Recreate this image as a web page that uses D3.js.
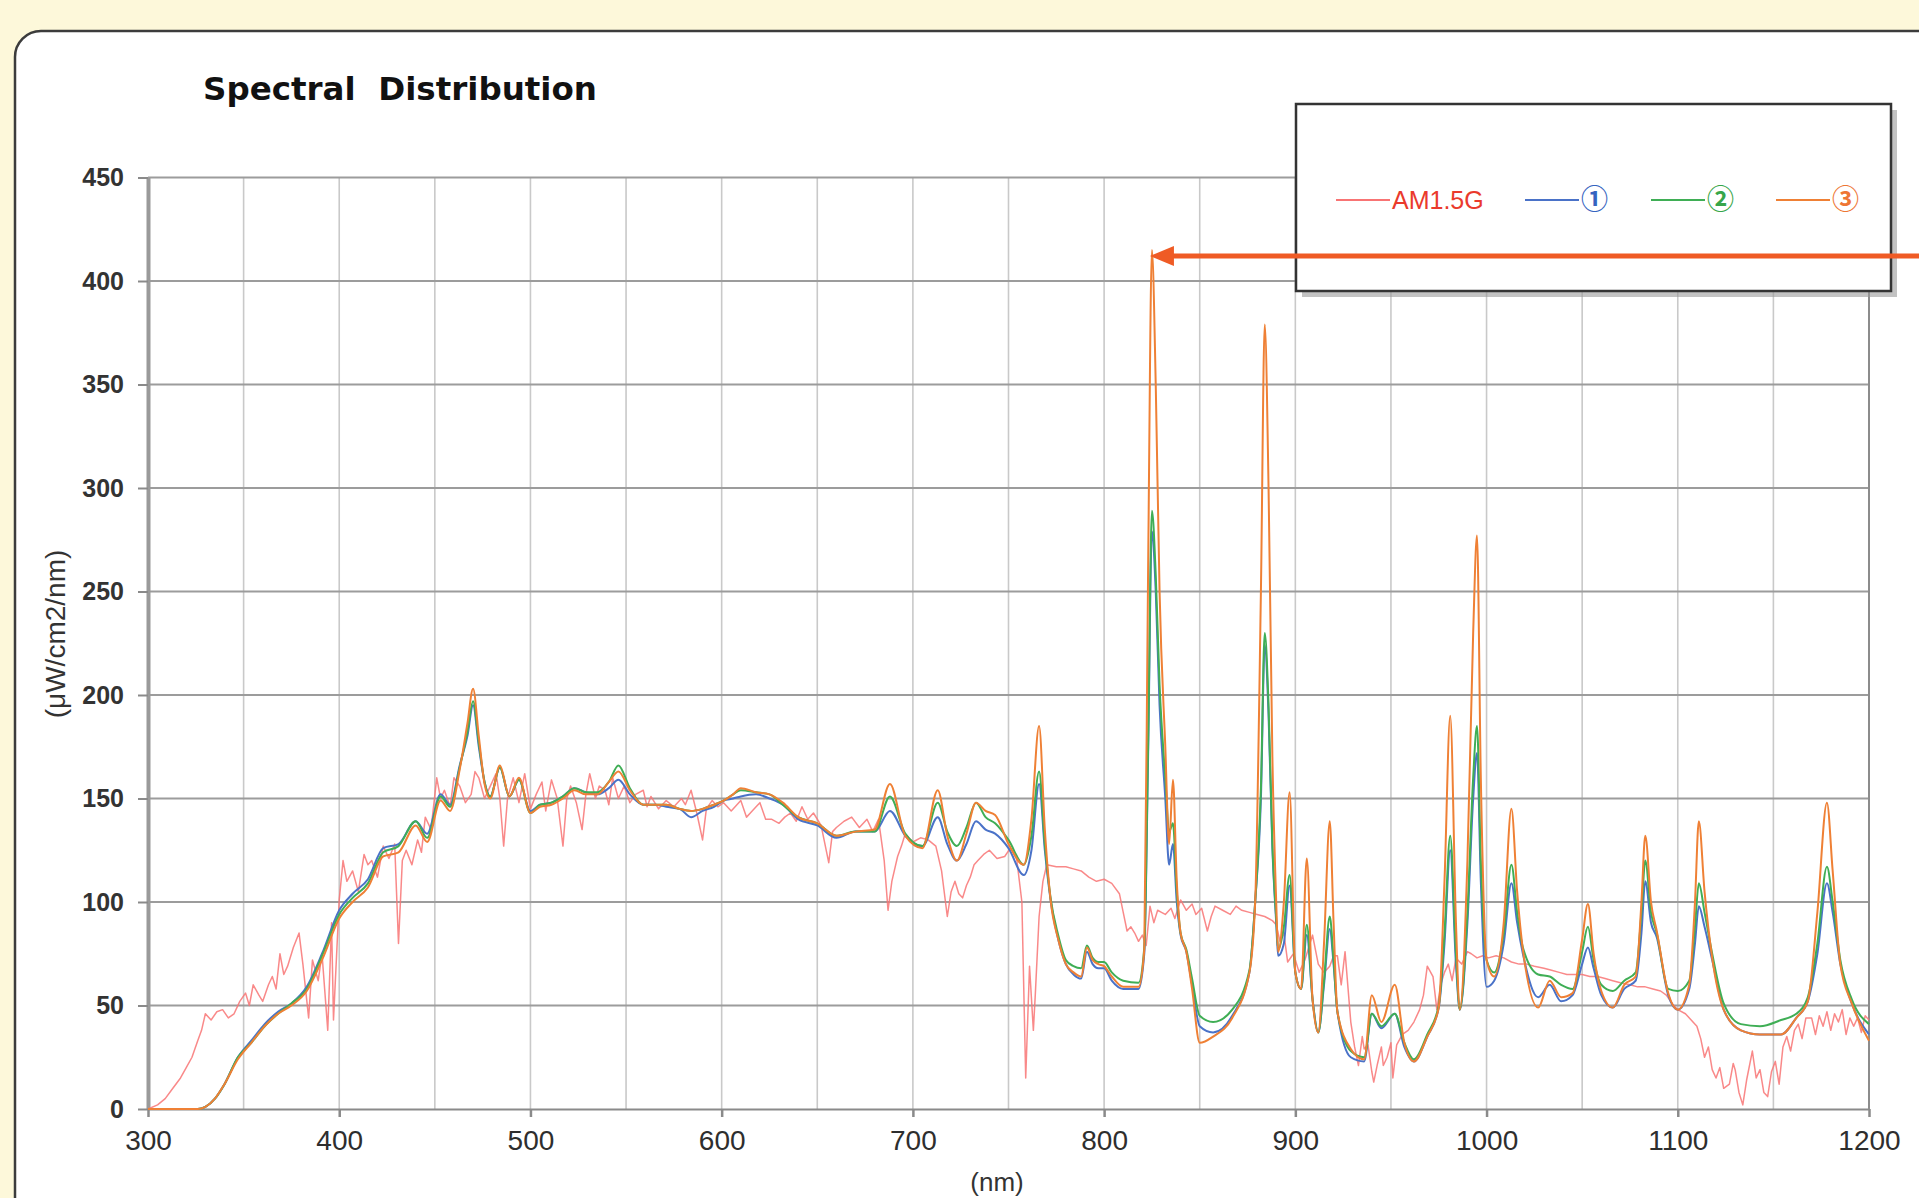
<!DOCTYPE html>
<html>
<head>
<meta charset="utf-8">
<script src="https://cdn.jsdelivr.net/npm/d3@7"></script>
<style>
  body { margin: 0; background: #fdf8da; overflow: hidden; }
  svg { display: block; }
</style>
</head>
<body>
<svg id="chart" width="1919" height="1198"></svg>
<script>
// tick labels
var xTicks = [300, 400, 500, 600, 700, 800, 900, 1000, 1100, 1200];
var xGrid = [350, 400, 450, 500, 550, 600, 650, 700, 750, 800, 850, 900, 950, 1000, 1050, 1100, 1150];
var yTicks = [0, 50, 100, 150, 200, 250, 300, 350, 400, 450];
var seriesNames = ["AM1.5G", "\u2460", "\u2461", "\u2462"];

// AM1.5G reference spectrum
var am15Nm = [300,305,309,313,317,320,323,326,328,330,333,336,339,342,345,348,351,353,355,358,360,363,365,367,369,371,373,376,379,381,384,386,389,391,394,396,397,400,402,404,407,410,413,415,417,420,423,426,429,431,433,435,438,441,443,445,448,451,453,455,458,460,463,466,469,471,473,476,479,482,484,486,488,491,494,497,500,503,506,508,511,514,517,519,521,524,527,529,531,534,536,539,541,543,546,549,552,555,559,561,563,567,571,575,579,581,584,587,590,592,595,598,601,605,610,613,615,618,620,623,626,630,633,636,639,642,645,648,652,656,658,660,664,668,672,676,679,682,685,687,689,692,694,696,700,704,708,712,715,718,720,722,724,726,728,730,732,734,737,740,744,748,751,754,757,759,761,763,764,766,768,770,775,780,784,788,792,796,800,804,808,810,812,814,816,818,820,822,824,826,828,830,832,835,837,840,843,846,848,851,854,856,858,862,866,869,872,876,880,884,888,890,892,894,896,899,902,905,909,912,915,918,920,922,924,926,929,931,933,935,936,938,940,941,943,945,946,948,950,951,953,956,959,962,965,967,969,972,974,976,978,980,982,984,987,990,992,995,998,1001,1005,1009,1013,1017,1021,1025,1030,1034,1038,1042,1046,1050,1054,1058,1062,1066,1070,1075,1079,1083,1087,1091,1094,1097,1100,1104,1107,1110,1112,1114,1116,1118,1120,1122,1124,1127,1129,1130,1132,1134,1136,1139,1141,1143,1145,1147,1149,1151,1153,1155,1157,1159,1161,1163,1165,1167,1170,1172,1174,1176,1178,1180,1182,1184,1186,1188,1190,1192,1194,1196,1198,1200];
var am15Val = [0,2,5,10,15,20,25,33,38,46,43,47,48,44,46,52,56,50,60,55,52,60,64,58,75,65,69,78,85,70,44,72,62,75,38,90,43,101,120,110,115,105,123,118,120,112,127,121,128,80,120,125,118,130,124,141,135,160,150,154,146,160,156,148,152,163,160,150,156,162,150,127,150,160,148,162,145,152,158,144,159,150,127,150,156,148,135,152,162,150,156,154,147,160,150,156,148,152,154,146,151,145,149,146,150,147,154,143,130,145,149,146,148,144,149,141,143,146,148,140,140,138,141,143,139,146,140,143,137,119,134,136,139,141,136,140,134,140,120,96,110,122,127,133,129,131,130,127,115,93,105,110,104,102,108,112,118,120,123,125,121,122,126,123,100,15,69,38,55,93,110,118,117,117,116,115,112,110,111,109,104,95,86,88,85,81,84,79,98,90,96,95,94,97,92,101,96,99,94,97,86,93,98,96,94,98,96,95,94,93,91,89,81,85,71,75,66,72,84,70,66,69,74,74,60,76,42,30,21,35,29,31,18,13,22,30,21,25,32,15,31,36,38,42,48,55,69,64,48,60,66,70,62,73,70,76,75,73,74,73,74,73,71,70,70,69,68,67,66,65,65,65,64,64,63,62,61,60,59,59,58,57,55,51,48,46,43,40,34,25,30,19,15,20,10,12,22,19,8,2,14,28,15,19,8,6,18,23,12,30,35,28,38,41,34,44,44,36,45,40,47,38,46,42,48,36,44,40,44,37,45,43];

// lamp spectra 1, 2, 3 on a shared wavelength grid
var lampNm = [300,315,326,330,335,340,347,354,361,368,375,383,391,400,407,415,423,431,440,446,453,458,463,467,470,473,476,479,484,489,494,500,505,511,517,523,529,535,541,546,552,559,565,571,578,584,590,596,601,606,610,618,625,632,640,650,660,670,680,688,696,705,713,718,723,728,733,738,743,750,758,762,766,769,772,776,780,784,788,791,794,797,800,804,810,818,821,823,825,827,829,832,834,836,838,840,843,846,850,857,867,876,879,882,884,886,888,890,891,894,897,900,903,906,909,912,915,918,920,922,929,936,940,945,952,957,962,969,975,978,981,984,986,990,993,995,997,1000,1004,1009,1013,1016,1019,1027,1033,1039,1045,1050,1053,1056,1060,1066,1072,1078,1081,1083,1086,1089,1095,1100,1106,1109,1111,1114,1118,1124,1133,1143,1154,1162,1168,1173,1178,1181,1185,1191,1200];
var lamp1 = [0,0,0,1,5,12,25,33,41,47,51,59,75,96,104,111,126,128,139,133,152,147,166,180,195,175,158,151,165,151,159,144,147,148,151,155,153,152,155,159,152,147,147,146,145,141,144,146,149,150,151,152,150,147,140,137,131,134,134,144,132,127,141,128,120,128,139,135,133,126,113,125,157,125,101,82,70,65,63,76,70,68,68,62,58,58,75,170,279,250,195,150,118,128,100,84,76,60,40,37,45,66,100,150,224,190,126,90,74,80,108,66,58,84,53,37,60,87,70,47,25,23,46,39,46,30,23,35,49,80,125,70,48,90,150,172,110,59,62,80,109,90,75,54,60,52,55,70,78,68,55,49,58,62,85,110,90,83,55,48,58,80,98,88,72,48,38,36,36,44,52,75,109,95,70,51,36];
var lamp2 = [0,0,0,1,5,12,25,32,40,46,51,58,74,94,102,109,124,127,139,131,151,146,165,182,197,177,158,151,165,151,159,143,147,148,151,155,153,153,158,166,155,147,147,147,145,144,145,147,149,152,154,153,152,147,141,138,132,134,134,151,133,127,148,134,127,136,148,141,138,130,118,132,163,128,102,84,72,69,68,79,73,71,71,66,62,61,78,175,289,258,205,160,134,138,105,85,77,63,45,42,48,67,100,155,230,195,128,92,77,88,113,66,58,89,53,37,62,93,72,47,28,25,46,40,46,32,24,36,50,85,132,75,48,95,160,185,120,72,66,85,118,95,78,65,64,60,58,76,88,72,60,57,62,66,95,120,95,85,58,57,62,88,109,95,75,51,41,40,43,46,54,80,117,100,72,53,41];
var lamp3 = [0,0,0,1,5,12,24,32,40,46,50,57,72,92,100,107,122,124,137,129,149,144,164,186,203,180,157,150,166,151,160,143,146,147,150,154,152,152,158,163,154,147,147,147,145,144,145,147,149,152,155,153,152,148,141,138,132,134,135,157,132,126,154,132,120,133,148,144,142,128,118,140,185,135,101,82,70,66,64,78,72,70,69,64,59,59,77,260,415,350,250,175,128,159,110,85,76,58,32,35,44,66,100,250,379,300,170,100,76,100,153,66,58,121,53,37,80,139,90,47,29,24,55,42,60,32,23,35,49,110,190,90,48,120,230,277,160,72,64,90,145,105,77,49,62,54,56,82,99,75,57,49,60,64,100,132,100,86,56,48,60,100,139,105,73,48,38,36,36,44,52,95,148,115,70,51,33];

var colors = ["#f87474", "#4a72c8", "#3fae55", "#ef8035"];
var labelColors = ["#ea3a2c", "#3563c0", "#37a64a", "#ee7633"];

var svg = d3.select("#chart");
var W = 1919, H = 1198;

// rounded white panel
svg.append("rect")
  .attr("x", 15).attr("y", 31)
  .attr("width", W + 100).attr("height", H + 100)
  .attr("rx", 26).attr("ry", 26)
  .attr("fill", "#ffffff")
  .attr("stroke", "#3c3c3c")
  .attr("stroke-width", 2.5);

var MARGINS = { top: 177.5, left: 148, right: 1869, bottom: 1109 };
var xScale = d3.scaleLinear().domain([300, 1200]).range([MARGINS.left, MARGINS.right]);
var yScale = d3.scaleLinear().domain([0, 450]).range([MARGINS.bottom, MARGINS.top]);

// grid
svg.append("g").selectAll("line")
  .data(xGrid).enter().append("line")
  .attr("x1", function(d) { return xScale(d); })
  .attr("x2", function(d) { return xScale(d); })
  .attr("y1", yScale(450)).attr("y2", yScale(0))
  .attr("stroke", "#c9c9c9").attr("stroke-width", 1.6);

svg.append("g").selectAll("line")
  .data(yTicks.slice(1)).enter().append("line")
  .attr("x1", xScale(300)).attr("x2", xScale(1200))
  .attr("y1", function(d) { return yScale(d); })
  .attr("y2", function(d) { return yScale(d); })
  .attr("stroke", "#9c9c9c").attr("stroke-width", 2);

// right frame line
svg.append("line")
  .attr("x1", xScale(1200)).attr("x2", xScale(1200))
  .attr("y1", yScale(450)).attr("y2", yScale(0))
  .attr("stroke", "#8c8c8c").attr("stroke-width", 2);

// axes
var xAxis = d3.axisBottom(xScale).tickValues(xTicks).tickFormat(d3.format("d"))
  .tickSize(8).tickPadding(13).tickSizeOuter(0);
var yAxis = d3.axisLeft(yScale).tickValues(yTicks).tickSize(10).tickPadding(14).tickSizeOuter(0);

var gx = svg.append("g").attr("id", "xAxisG")
  .attr("transform", "translate(0," + yScale(0) + ")")
  .call(xAxis);
gx.select(".domain").attr("stroke", "#8a8a8a").attr("stroke-width", 2.2);
gx.selectAll(".tick line").attr("stroke", "#8a8a8a").attr("stroke-width", 2.5);
gx.selectAll(".tick text")
  .attr("fill", "#2e2e2e")
  .style("font-family", "'Liberation Sans', Arial, sans-serif")
  .style("font-size", "28px");

var gy = svg.append("g").attr("id", "yAxisG")
  .attr("transform", "translate(" + xScale(300) + ",0)")
  .call(yAxis);
gy.select(".domain").attr("stroke", "#9a9a9a").attr("stroke-width", 4);
gy.selectAll(".tick line").attr("stroke", "#8a8a8a").attr("stroke-width", 2);
gy.selectAll(".tick text")
  .attr("fill", "#333")
  .style("font-family", "'Liberation Sans', Arial, sans-serif")
  .style("font-weight", "bold")
  .style("font-size", "25px");

// series
var line = d3.line()
  .x(function(d) { return xScale(d[0]); })
  .y(function(d) { return yScale(d[1]); });

var seriesData = [
  d3.zip(am15Nm, am15Val),
  d3.zip(lampNm, lamp1),
  d3.zip(lampNm, lamp2),
  d3.zip(lampNm, lamp3)
];

svg.append("g").selectAll("path")
  .data(seriesData).enter().append("path")
  .attr("d", function(d, i) { return line.curve(i === 0 ? d3.curveLinear : d3.curveMonotoneX)(d); })
  .attr("fill", "none")
  .attr("stroke", function(d, i) { return colors[i]; })
  .attr("stroke-opacity", function(d, i) { return i === 0 ? 0.85 : 1; })
  .attr("stroke-width", function(d, i) { return i === 0 ? 1.5 : 2; })
  .attr("stroke-linejoin", "round");

// titles
svg.append("text")
  .attr("x", 203).attr("y", 100)
  .attr("fill", "#111")
  .style("font-family", "'DejaVu Sans', sans-serif")
  .style("font-weight", "bold")
  .style("font-size", "32.5px")
  .style("white-space", "pre")
  .text("Spectral  Distribution");

svg.append("text")
  .attr("transform", "translate(65,634) rotate(-90)")
  .attr("text-anchor", "middle")
  .attr("fill", "#333")
  .style("font-family", "'Liberation Sans', Arial, sans-serif")
  .style("font-size", "28px")
  .text("(\u03bcW/cm2/nm)");

svg.append("text")
  .attr("x", 997).attr("y", 1191)
  .attr("text-anchor", "middle")
  .attr("fill", "#333")
  .style("font-family", "'Liberation Sans', Arial, sans-serif")
  .style("font-size", "26px")
  .text("(nm)");

// legend
var legend = svg.append("g");
legend.append("rect")
  .attr("x", 1302).attr("y", 110).attr("width", 595).attr("height", 187)
  .attr("fill", "#9a9a9a").attr("opacity", 0.6);
legend.append("rect")
  .attr("x", 1296).attr("y", 104).attr("width", 595).attr("height", 187)
  .attr("fill", "#ffffff").attr("stroke", "#333").attr("stroke-width", 2.5);

var legendX = [1336, 1525, 1651, 1776];
var legendY = 200;
var items = legend.selectAll("g.item").data(seriesNames).enter().append("g").attr("class", "item");
items.append("line")
  .attr("x1", function(d, i) { return legendX[i]; })
  .attr("x2", function(d, i) { return legendX[i] + 54; })
  .attr("y1", legendY).attr("y2", legendY)
  .attr("stroke", function(d, i) { return colors[i]; })
  .attr("stroke-width", 2);
items.append("text")
  .attr("x", function(d, i) { return legendX[i] + 56; })
  .attr("y", legendY + 9)
  .attr("fill", function(d, i) { return labelColors[i]; })
  .style("font-family", function(d, i) { return i === 0 ? "'Liberation Sans', Arial, sans-serif" : "'Noto Sans CJK JP', sans-serif"; })
  .style("font-size", function(d, i) { return i === 0 ? "25px" : "27px"; })
  .style("font-weight", function(d, i) { return i === 0 ? "normal" : "bold"; })
  .text(function(d) { return d; });

// arrow pointing at the 825 nm peak
var arrowY = 256;
svg.append("line")
  .attr("x1", W).attr("x2", xScale(825) + 18)
  .attr("y1", arrowY).attr("y2", arrowY)
  .attr("stroke", "#ef5b25").attr("stroke-width", 5);
svg.append("path")
  .attr("d", "M" + (xScale(825) - 2) + "," + arrowY + " l24,-10 l0,20 z")
  .attr("fill", "#ef5b25");
</script>
</body>
</html>
